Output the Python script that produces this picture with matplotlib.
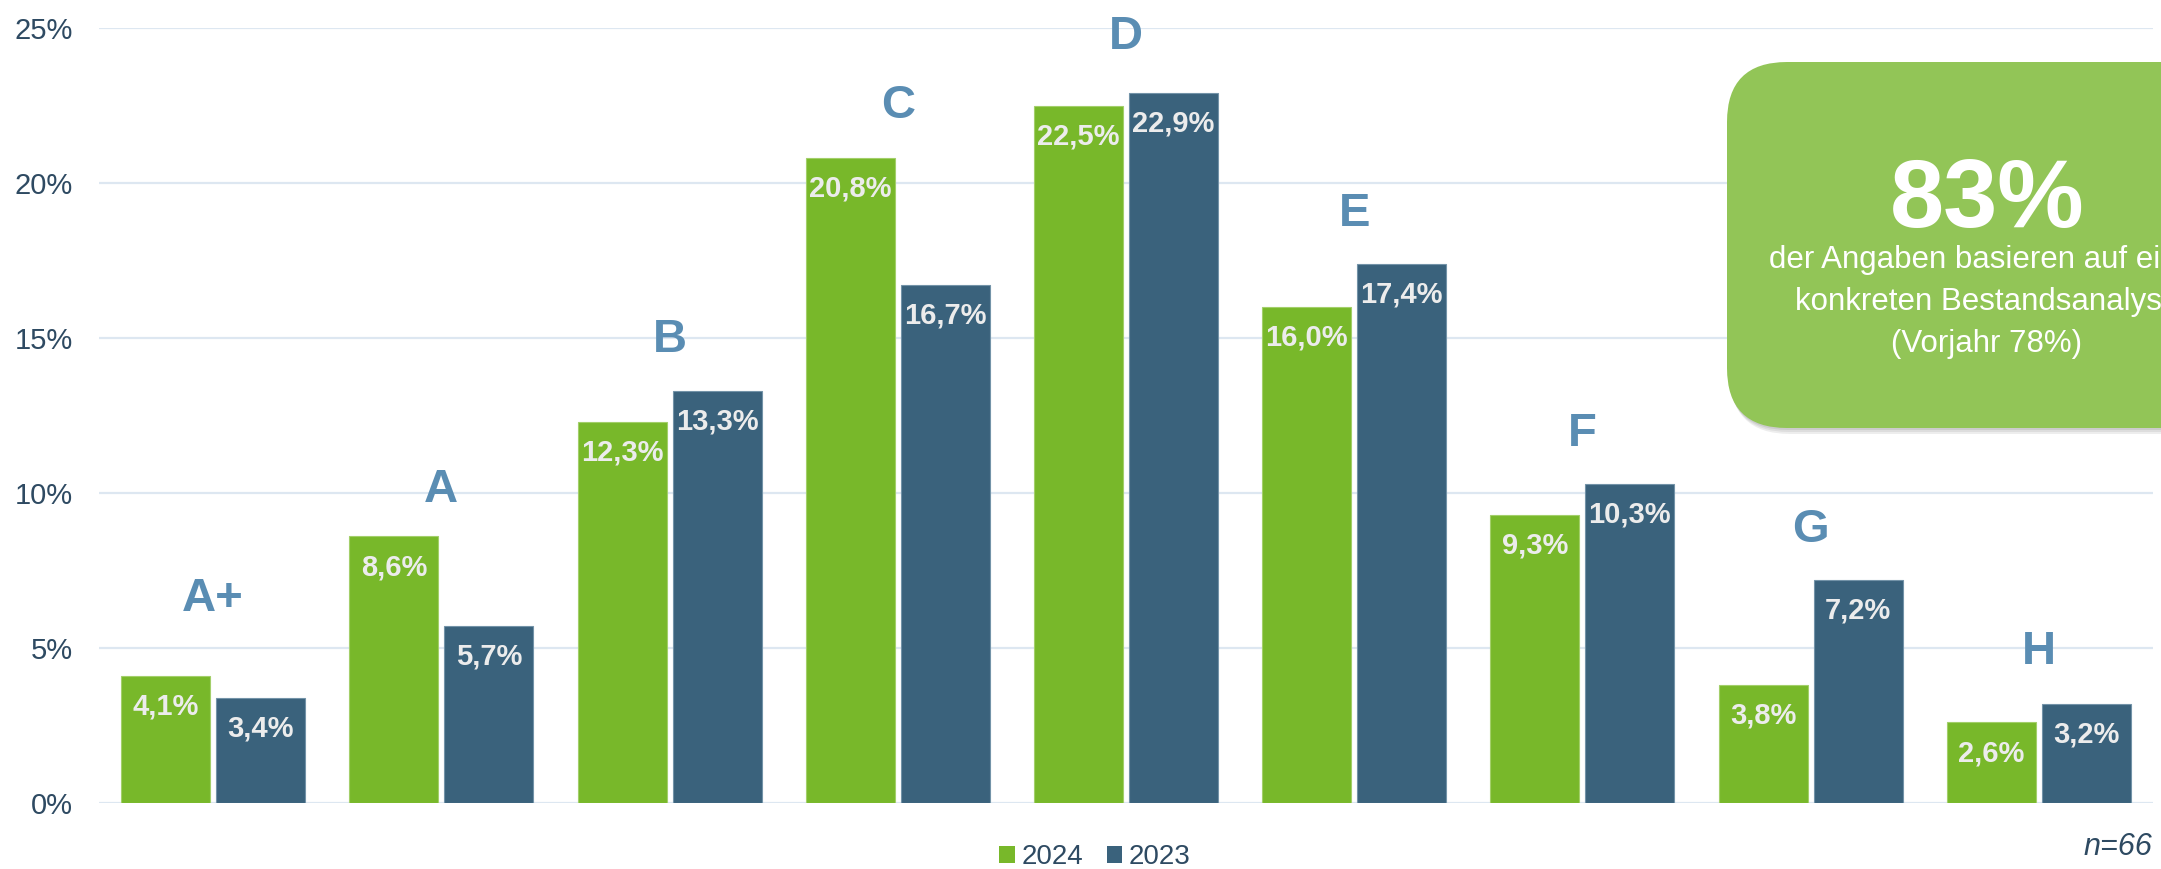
import matplotlib.pyplot as plt
import numpy as np
from matplotlib.patches import FancyBboxPatch, Patch

# energy efficiency classes, share of buildings per class
classes = ['A+', 'A', 'B', 'C', 'D', 'E', 'F', 'G', 'H']
share_2024 = [4.1, 8.6, 12.3, 20.8, 22.5, 16.0, 9.3, 3.8, 2.6]
share_2023 = [3.4, 5.7, 13.3, 16.7, 22.9, 17.4, 10.3, 7.2, 3.2]
years = ['2024', '2023']
y_ticks = [0, 5, 10, 15, 20, 25]

green = '#78b82a'
blue = '#3a627c'
letter_col = '#5a8db3'
text_col = '#2e4a62'
label_col = '#ececec'

plt.rcParams['font.family'] = ['Liberation Sans', 'DejaVu Sans']

W, H = 2161, 869
fig = plt.figure(figsize=(W / 100, H / 100), dpi=100)
ax = fig.add_axes([99 / W, (H - 803) / H, (2153 - 99) / W, (803 - 28) / H])

x = np.arange(len(classes))
bw = 0.39
off = 0.208
bars_new = ax.bar(x - off, share_2024, bw, color=green, edgecolor='#a3cf6a',
                  linewidth=0.8, zorder=3)
bars_old = ax.bar(x + off, share_2023, bw, color=blue, edgecolor='#7393a8',
                  linewidth=0.8, zorder=3)

ax.set_xlim(-0.5, len(classes) - 0.5)
ax.set_ylim(0, 25)
ax.set_yticks(y_ticks)
ax.set_yticklabels([f'{t}%' for t in y_ticks], fontsize=21, color=text_col)
ax.set_xticks([])
ax.tick_params(axis='y', length=0, pad=19)
ax.yaxis.grid(True, color='#dde7f1', linewidth=1.6)
ax.set_axisbelow(True)
for s in ax.spines.values():
    s.set_visible(False)

# value labels inside the top of each bar
for bars, vals in ((bars_new, share_2024), (bars_old, share_2023)):
    for rect, v in zip(bars, vals):
        ax.annotate(f'{v:.1f}%'.replace('.', ','),
                    xy=(rect.get_x() + rect.get_width() / 2, v),
                    xytext=(0, -12), textcoords='offset points',
                    ha='center', va='top', fontsize=21, fontweight='bold',
                    color=label_col, zorder=4)

# class letters above each pair
lift = [47, 25, 28, 29, 32, 27, 27, 27, 29]
for i, c in enumerate(classes):
    top = max(share_2024[i], share_2023[i])
    ax.annotate(c, xy=(i, top), xytext=(0, lift[i]), textcoords='offset points',
                ha='center', va='baseline', fontsize=34, fontweight='bold',
                color=letter_col)

handles = [Patch(facecolor=green), Patch(facecolor=blue)]
fig.legend(handles, years, loc='center', bbox_to_anchor=(1095 / W, 1 - 857 / H),
           ncol=2, frameon=False, fontsize=20, handlelength=0.55,
           handleheight=0.55, handletextpad=0.25, columnspacing=0.85,
           labelcolor=text_col)

fig.text(2152 / W, 1 - 855 / H, 'n=66', ha='right', va='baseline',
         fontstyle='italic', fontsize=22, color=text_col)

# info box on the right, drawn in pixel coordinates
ov = fig.add_axes([0, 0, 1, 1], zorder=5)
ov.set_xlim(0, W)
ov.set_ylim(H, 0)
ov.axis('off')

for k, a in enumerate([0.10, 0.10, 0.12]):
    d = 6 - 2 * k
    ov.add_patch(FancyBboxPatch((1727 + d * 0.5, 62 + d), 620, 366,
                                boxstyle='round,pad=0,rounding_size=60',
                                fc='#555555', ec='none', alpha=a))
ov.add_patch(FancyBboxPatch((1727, 62), 620, 366,
                            boxstyle='round,pad=0,rounding_size=60',
                            fc='#92c557', ec='none'))

ov.text(1987, 227, '83%', ha='center', va='baseline', fontsize=70,
        fontweight='bold', color='white')
box_lines = ['der Angaben basieren auf einer', 'konkreten Bestandsanalyse',
             '(Vorjahr 78%)']
for yb, line in zip([268, 310, 352], box_lines):
    ov.text(1987, yb, line, ha='center', va='baseline', fontsize=22.5,
            color='white')

fig.savefig('out.png', dpi=100)
